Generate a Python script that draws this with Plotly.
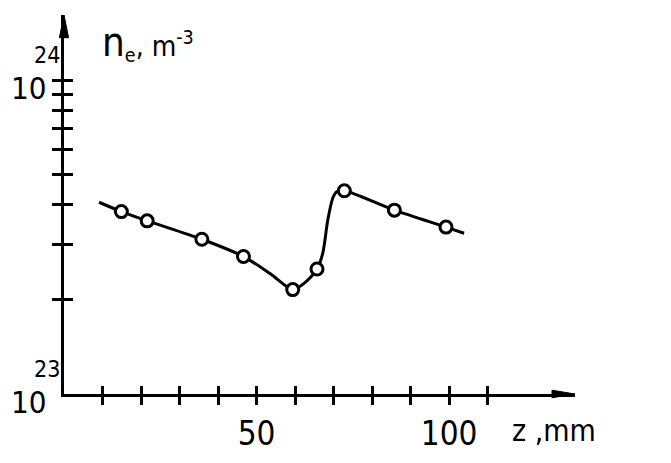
import plotly.graph_objects as go

# measured points: z (mm), electron density n_e (m^-3)
z_pts = [14.9, 21.6, 35.8, 46.6, 59.4, 65.7, 72.8, 85.8, 99.2]
n_pts = [3.81e23, 3.56e23, 3.11e23, 2.74e23, 2.15e23, 2.50e23, 4.44e23, 3.85e23, 3.40e23]

# hand-drawn smooth curve through the points
z_curve = [9.1, 14.9, 21.6, 35.8, 46.6, 53.5, 59.4, 62.5, 65.7, 67.2, 68.5, 69.8, 70.8, 72.8, 85.8, 99.2, 103.9]
n_curve = [4.08e23, 3.81e23, 3.56e23, 3.11e23, 2.74e23, 2.42e23, 2.15e23, 2.26e23, 2.50e23, 2.81e23,
           3.58e23, 4.21e23, 4.41e23, 4.44e23, 3.85e23, 3.40e23, 3.25e23]

x_ticks = [10, 20, 30, 40, 50, 60, 70, 80, 90, 100, 110]
x_labelled = [50, 100]
x_ticklabels = ["50", "100"]
y_ticks = [2e23, 3e23, 4e23, 5e23, 6e23, 7e23, 8e23, 9e23, 1e24]

X_RANGE = [0, 132.7]
Y_RANGE = [23, 24.207]

FONT = "Liberation Sans Narrow, DejaVu Sans Condensed, Liberation Sans, Arial, sans-serif"
INK = "black"

fig = go.Figure()
fig.add_trace(go.Scatter(x=z_curve, y=n_curve, mode="lines",
                         line=dict(color=INK, width=3, shape="spline", smoothing=0.8),
                         hoverinfo="skip", showlegend=False))
fig.add_trace(go.Scatter(x=z_pts, y=n_pts, mode="markers",
                         marker=dict(symbol="circle", size=12, color="white",
                                     line=dict(color=INK, width=3)),
                         xaxis="x2", yaxis="y2", showlegend=False))

axis_common = dict(showgrid=False, zeroline=False, color=INK, tickcolor=INK, tickwidth=2.5,
                   automargin=False)
fig.update_layout(
    width=671, height=463,
    margin=dict(l=64, r=96, t=15, b=69),
    paper_bgcolor="white", plot_bgcolor="white",
    font=dict(family=FONT, color=INK, size=32),
    xaxis=dict(range=X_RANGE, tickvals=x_labelled, ticktext=x_ticklabels, ticks="outside", ticklen=8,
               minor=dict(tickvals=x_ticks, ticks="outside", ticklen=8, tickwidth=2.5, tickcolor=INK,
                          showgrid=False),
               showline=True, linewidth=3, linecolor=INK,
               tickfont=dict(family=FONT, size=33, color=INK), **axis_common),
    yaxis=dict(type="log", range=Y_RANGE, tickvals=y_ticks, ticks="outside", ticklen=9,
               showticklabels=False, showline=True, linewidth=3, linecolor=INK, **axis_common),
    xaxis2=dict(range=X_RANGE, overlaying="x", anchor="y2", side="bottom", tickvals=x_ticks,
                ticks="inside", ticklen=8, showticklabels=False, showline=False, **axis_common),
    yaxis2=dict(type="log", range=Y_RANGE, overlaying="y", anchor="x2", side="left", tickvals=y_ticks,
                ticks="inside", ticklen=9, showticklabels=False, showline=False, **axis_common),
)

# axis arrowheads
fig.add_shape(type="path", xref="paper", yref="paper",
              path="M -0.009 0.94 L 0 1.0 L 0.009 0.94 Z", fillcolor=INK, line=dict(color=INK, width=1))
fig.add_shape(type="path", xref="paper", yref="paper",
              path="M 0.955 0.01 L 1.0 0 L 0.955 -0.01 Z", fillcolor=INK, line=dict(color=INK, width=1))

# y tick labels 10^23, 10^24
for exp, sup in [(24, "24"), (23, "23")]:
    fig.add_annotation(text="10", xref="paper", yref="y", x=0, y=exp, xanchor="right", yanchor="middle",
                       xshift=-16, yshift=-8, showarrow=False, font=dict(family=FONT, size=31, color=INK))
    fig.add_annotation(text=sup, xref="paper", yref="y", x=0, y=exp, xanchor="right", yanchor="middle",
                       xshift=-2, yshift=25, showarrow=False, font=dict(family=FONT, size=23, color=INK))

# axis titles
fig.add_annotation(text="z ,mm", xref="paper", yref="paper", x=0.873, y=0, xanchor="left", yanchor="middle",
                   yshift=-36, showarrow=False, font=dict(family=FONT, size=30, color=INK))
fig.add_annotation(text="<span style='font-size:40px'>n</span><sub>e</sub>, m<sup>-3</sup>",
                   xref="paper", yref="paper", x=0.07, y=1,
                   xanchor="left", yanchor="top", yshift=-2, showarrow=False,
                   font=dict(family=FONT, size=28, color=INK))

fig.write_html("out.html", config={"displayModeBar": False},
               post_script="document.body.style.margin='0px';")
